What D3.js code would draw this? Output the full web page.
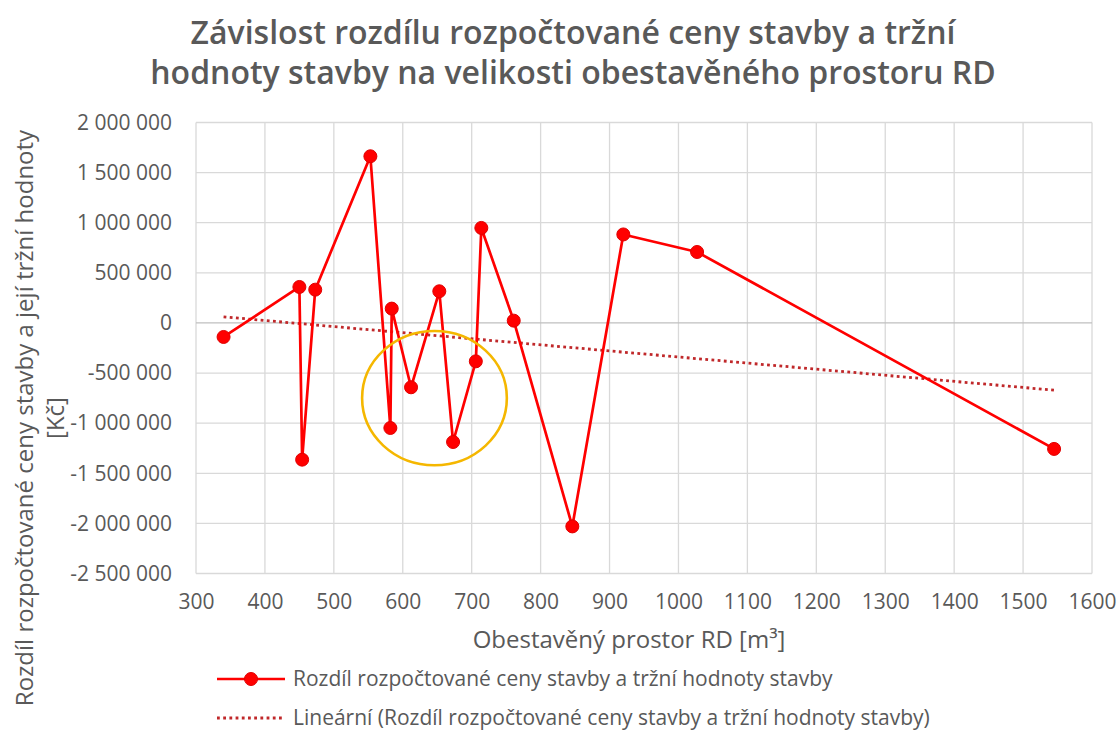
<!DOCTYPE html>
<html>
<head>
<meta charset="utf-8">
<script src="https://cdn.jsdelivr.net/npm/d3@7"></script>
<style>
  body { margin: 0; background: #fff; }
  text { font-family: "Open Sans", sans-serif; fill: #595959; }
</style>
</head>
<body>
<div id="chart-area"></div>
<script>
// Data
var volume = [340, 450, 454, 473, 553, 582, 584, 612, 653, 673, 706, 714, 761, 846, 920, 1027, 1545];
var difference = [-140000, 359000, -1364000, 332000, 1663000, -1048000, 143000, -642000,
                  316000, -1188000, -383000, 948000, 23000, -2030000, 883000, 708000, -1257000];
var xTicks = [300, 400, 500, 600, 700, 800, 900, 1000, 1100, 1200, 1300, 1400, 1500, 1600];
var yTicks = [2000000, 1500000, 1000000, 500000, 0, -500000, -1000000, -1500000, -2000000, -2500000];

var titleLines = ["Závislost rozdílu rozpočtované ceny stavby a tržní",
                  "hodnoty stavby na velikosti obestavěného prostoru RD"];
var yTitleLines = ["Rozdíl rozpočtované ceny stavby a její tržní hodnoty", "[Kč]"];
var xTitle = "Obestavěný prostor RD [m³]";
var seriesName = "Rozdíl rozpočtované ceny stavby a tržní hodnoty stavby";
var trendName = "Lineární (Rozdíl rozpočtované ceny stavby a tržní hodnoty stavby)";

// highlighted cluster (annotation ellipse), in data units
var highlight = { x: 646, y: -750000, rx: 105, ry: 670000 };

var data = volume.map(function(v, i) { return { x: v, y: difference[i] }; });

var W = 1119, H = 731;
var margin = { left: 196, right: 27, top: 122.5, bottom: 157.5 };

var svg = d3.select("#chart-area")
    .append("svg")
        .attr("width", W)
        .attr("height", H);

var x = d3.scaleLinear()
    .domain([300, 1600])
    .range([margin.left, W - margin.right]);

var y = d3.scaleLinear()
    .domain([-2500000, 2000000])
    .range([H - margin.bottom, margin.top]);

var locale = d3.formatLocale({ decimal: ",", thousands: " ", grouping: [3], currency: ["", ""], minus: "-" });
var fmt = locale.format(",d");

// Gridlines
svg.append("g")
    .selectAll("line.v")
    .data(xTicks)
    .enter().append("line")
        .attr("x1", function(d) { return x(d); })
        .attr("x2", function(d) { return x(d); })
        .attr("y1", y(2000000))
        .attr("y2", y(-2500000))
        .attr("stroke", "#d9d9d9")
        .attr("stroke-width", 1.3);

svg.append("g")
    .selectAll("line.h")
    .data(yTicks)
    .enter().append("line")
        .attr("x1", x(300))
        .attr("x2", x(1600))
        .attr("y1", function(d) { return y(d); })
        .attr("y2", function(d) { return y(d); })
        .attr("stroke", function(d) { return d === 0 ? "#bfbfbf" : "#d9d9d9"; })
        .attr("stroke-width", 1.3);

// Y axis labels
var yAxis = d3.axisLeft(y).tickValues(yTicks).tickSize(0).tickPadding(24).tickFormat(fmt);
var yAxisGroup = svg.append("g")
    .attr("transform", "translate(" + x(300) + ",0)")
    .call(yAxis);
yAxisGroup.select(".domain").remove();
yAxisGroup.selectAll("text")
    .attr("font-size", "21px")
    .style("font-family", "'Open Sans', sans-serif")
    .attr("fill", "#595959");

// X axis labels
var xAxis = d3.axisBottom(x).tickValues(xTicks).tickSize(0).tickPadding(21).tickFormat(d3.format("d"));
var xAxisGroup = svg.append("g")
    .attr("transform", "translate(0," + y(-2500000) + ")")
    .call(xAxis);
xAxisGroup.select(".domain").remove();
xAxisGroup.selectAll("text")
    .attr("font-size", "21px")
    .style("font-family", "'Open Sans', sans-serif")
    .attr("fill", "#595959");

// Linear trendline (least squares fit of the series)
var mx = d3.mean(data, function(d) { return d.x; });
var my = d3.mean(data, function(d) { return d.y; });
var slope = d3.sum(data, function(d) { return (d.x - mx) * (d.y - my); }) /
            d3.sum(data, function(d) { return (d.x - mx) * (d.x - mx); });
var x0 = d3.min(volume), x1 = d3.max(volume);
var trend = [{ x: x0, y: my + slope * (x0 - mx) }, { x: x1, y: my + slope * (x1 - mx) }];

var line = d3.line()
    .x(function(d) { return x(d.x); })
    .y(function(d) { return y(d.y); });

svg.append("path")
    .datum(trend)
    .attr("d", line)
    .attr("fill", "none")
    .attr("stroke", "#c0282a")
    .attr("stroke-width", 2.8)
    .attr("stroke-dasharray", "2.8,3.4");

// Series line
svg.append("path")
    .datum(data)
    .attr("d", line)
    .attr("fill", "none")
    .attr("stroke", "#ff0000")
    .attr("stroke-width", 2.7)
    .attr("stroke-linejoin", "round");

// Annotation ellipse
svg.append("ellipse")
    .attr("cx", x(highlight.x))
    .attr("cy", y(highlight.y))
    .attr("rx", x(highlight.x + highlight.rx) - x(highlight.x))
    .attr("ry", y(highlight.y - highlight.ry) - y(highlight.y))
    .attr("fill", "none")
    .attr("stroke", "#f5b700")
    .attr("stroke-width", 2.6);

// Markers
svg.selectAll("circle.pt")
    .data(data)
    .enter().append("circle")
        .attr("class", "pt")
        .attr("cx", function(d) { return x(d.x); })
        .attr("cy", function(d) { return y(d.y); })
        .attr("r", 6.5)
        .attr("fill", "#ff0000")
        .attr("stroke", "#e00000")
        .attr("stroke-width", 1);

// Title
svg.append("text")
    .attr("text-anchor", "middle")
    .attr("font-size", "32px")
    .attr("font-weight", 600)
    .selectAll("tspan")
    .data(titleLines)
    .enter().append("tspan")
        .attr("x", 573)
        .attr("y", function(d, i) { return 44 + i * 40; })
        .text(function(d) { return d; });

// X title
svg.append("text")
    .attr("x", 629)
    .attr("y", 648)
    .attr("text-anchor", "middle")
    .attr("font-size", "24px")
    .text(xTitle);

// Y title
svg.append("text")
    .attr("transform", "translate(0,418) rotate(-90)")
    .attr("text-anchor", "middle")
    .attr("font-size", "24px")
    .selectAll("tspan")
    .data(yTitleLines)
    .enter().append("tspan")
        .attr("x", 0)
        .attr("y", function(d, i) { return 33 + i * 31; })
        .text(function(d) { return d; });

// Legend
var legend = svg.append("g");
legend.append("line")
    .attr("x1", 217).attr("x2", 285)
    .attr("y1", 679).attr("y2", 679)
    .attr("stroke", "#ff0000")
    .attr("stroke-width", 2.7);
legend.append("circle")
    .attr("cx", 251).attr("cy", 679)
    .attr("r", 6.5)
    .attr("fill", "#ff0000")
    .attr("stroke", "#e00000");
legend.append("text")
    .attr("x", 293).attr("y", 686)
    .attr("font-size", "21px")
    .text(seriesName);

legend.append("line")
    .attr("x1", 217).attr("x2", 283)
    .attr("y1", 718).attr("y2", 718)
    .attr("stroke", "#c0282a")
    .attr("stroke-width", 2.8)
    .attr("stroke-dasharray", "2.8,3.4");
legend.append("text")
    .attr("x", 293).attr("y", 725)
    .attr("font-size", "21px")
    .text(trendName);
</script>
</body>
</html>
